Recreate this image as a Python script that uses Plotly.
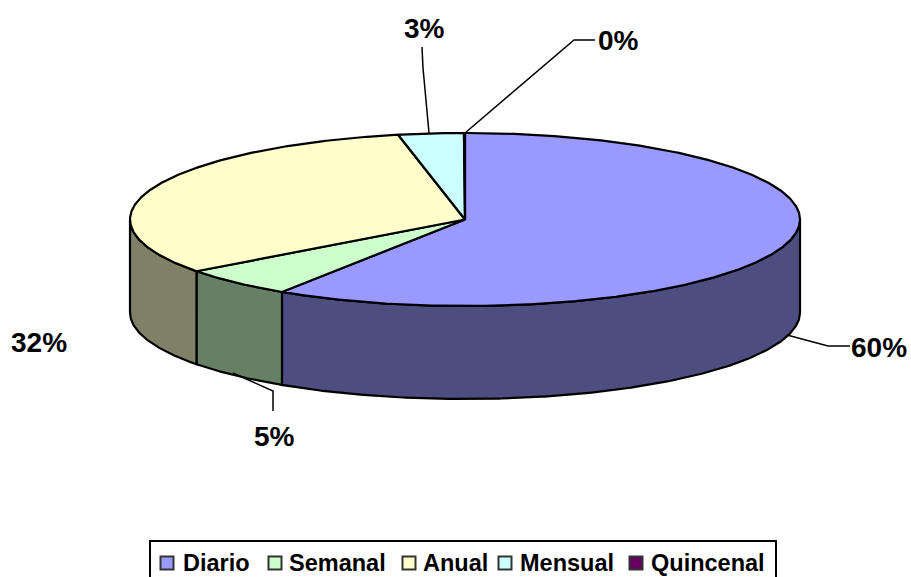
import numpy as np
import plotly.graph_objects as go

categories = ["Diario", "Semanal", "Anual", "Mensual", "Quincenal"]
values = [59.2, 5.6, 32.0, 3.15, 0.05]
percent_labels = ["60%", "5%", "32%", "3%", "0%"]
top_colors = ["#9999FF", "#CCFFCC", "#FFFFCC", "#CCFFFF", "#660066"]
side_colors = ["#4D4D80", "#668066", "#808066", "#668080", "#330033"]

# Projection of the disc (pixels of the 911x577 canvas)
CX, CY, RX, RY, DEPTH = 465, 219.5, 335, 86.5, 93
LINE = dict(color="black", width=2.2)
FONT = "Liberation Sans, Arial, sans-serif"


def rim(a0, a1, drop=0):
    t = np.radians(np.linspace(a0, a1, max(2, int(abs(a1 - a0) * 2) + 2)))
    return CX + RX * np.sin(t), CY - RY * np.cos(t) + drop


def poly(x, y, fill, line=LINE):
    return go.Scatter(x=x, y=y, mode="lines", fill="toself", fillcolor=fill,
                      line=line, hoverinfo="skip", showlegend=False)


fig = go.Figure()
shares = np.array(values) / sum(values) * 360
edges = np.concatenate([[0], np.cumsum(shares)])

# Visible wall: the front half of the disc only
for i, name in enumerate(categories):
    a0, a1 = max(edges[i], 90), min(edges[i + 1], 270)
    if a1 <= a0:
        continue
    xt, yt = rim(a0, a1)
    xb, yb = rim(a0, a1, DEPTH)
    fig.add_trace(poly(np.r_[xt, xb[::-1], xt[0]], np.r_[yt, yb[::-1], yt[0]], side_colors[i]))

# Top face
for i, name in enumerate(categories):
    x, y = rim(edges[i], edges[i + 1])
    fig.add_trace(poly(np.r_[CX, x, CX], np.r_[CY, y, CY], top_colors[i]))

# Data labels with leader lines
label_pos = [(879, 347), (274, 436), (39, 342), (424, 28), (618, 40)]
leaders = [
    [(787, 335), (828, 346), (850, 346)],
    [(233, 373), (273, 391), (273, 411)],
    None,
    [(422, 47), (423, 68), (429, 133)],
    [(465, 133), (574, 40), (595, 40)],
]
for leader in leaders:
    if leader:
        fig.add_trace(go.Scatter(x=[p[0] for p in leader], y=[p[1] for p in leader], mode="lines",
                                 line=dict(color="black", width=1.5), hoverinfo="skip", showlegend=False))
for text, (x, y) in zip(percent_labels, label_pos):
    fig.add_annotation(x=x, y=y, text=f"<b>{text}</b>", showarrow=False,
                       font=dict(family=FONT, size=28, color="black"))

# Legend
legend_marker_x = [167, 275, 409, 505, 636]
legend_text_x = [181, 287, 421, 518, 649]
LEGEND_Y = 563
fig.add_shape(type="rect", x0=150, x1=776, y0=541, y1=590, line=dict(color="black", width=2),
              fillcolor="white", layer="below")
fig.add_trace(go.Scatter(x=legend_marker_x, y=[LEGEND_Y] * 5, mode="markers",
                         marker=dict(symbol="square", size=13, color=top_colors,
                                     line=dict(color="#333333", width=2)),
                         hoverinfo="skip", showlegend=False))
for name, x in zip(categories, legend_text_x):
    fig.add_annotation(x=x, y=LEGEND_Y, text=f"<b>{name}</b>", showarrow=False, xanchor="left",
                       font=dict(family=FONT, size=23.5, color="black"))

fig.update_layout(
    width=911, height=577, margin=dict(l=0, r=0, t=0, b=0),
    paper_bgcolor="white", plot_bgcolor="white", showlegend=False,
    xaxis=dict(range=[0, 911], visible=False, fixedrange=True),
    yaxis=dict(range=[577, 0], visible=False, fixedrange=True),
)
fig.write_html("out.html", config={"displayModeBar": False},
               post_script="document.body.style.margin='0';document.documentElement.style.overflow='hidden';")
